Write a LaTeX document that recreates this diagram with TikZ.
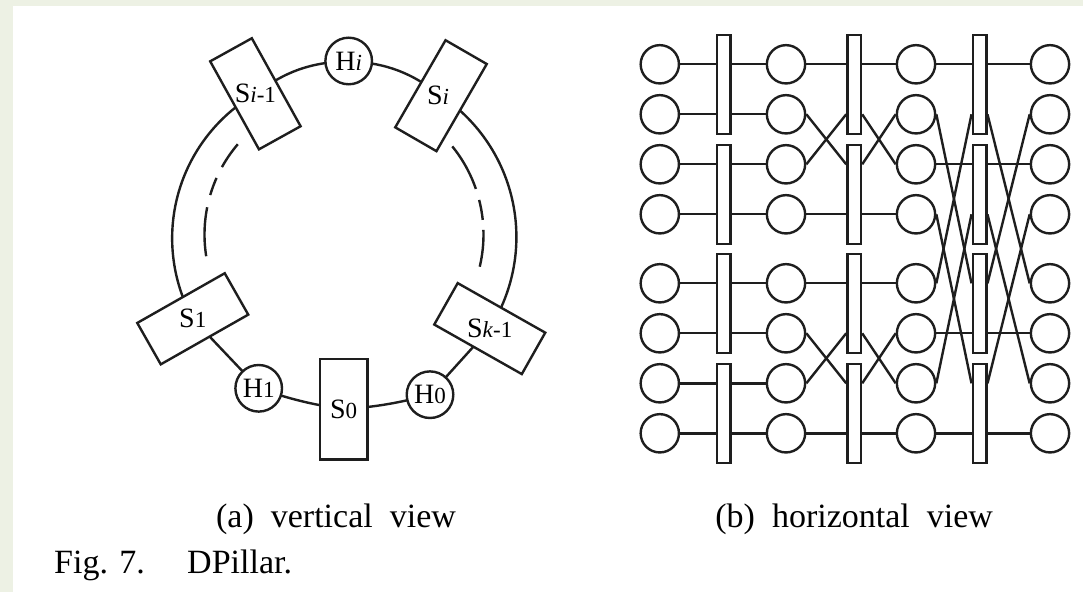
\documentclass[tikz,border=0pt]{standalone}
\usepackage{fontspec}
\setmainfont{Liberation Serif}
\newcommand\smallsub[1]{{\fontsize{23}{25}\selectfont #1}}
\definecolor{bgtint}{HTML}{EDF1E4}
\definecolor{ink}{HTML}{1E1E1E}
\pgfdeclarelayer{back}
\pgfdeclarelayer{wires}
\pgfsetlayers{back,wires,main}
\begin{document}
\begin{tikzpicture}[x=1pt,y=1pt,
  every path/.append style={line width=2.4pt},
  hub/.style={circle,draw=ink,line width=2.4pt,fill=white,minimum size=46.6pt,inner sep=0pt,font=\fontsize{28}{30}\selectfont},
  sw/.style={rectangle,draw=ink,line width=2.4pt,fill=white,minimum width=47.6pt,minimum height=100.6pt,inner sep=0pt},
  lab/.style={inner sep=0pt,font=\fontsize{28}{30}\selectfont},
  srv/.style={circle,draw=ink,line width=2.4pt,fill=white,minimum size=38.3pt,inner sep=0pt},
  bar/.style={rectangle,draw=ink,line width=2.4pt,fill=white,minimum width=13.6pt,minimum height=98.6pt,inner sep=0pt},
  wire/.style={draw=ink,line width=2.4pt},
  captext/.style={inner sep=0pt,anchor=base,font=\fontsize{34}{40}\selectfont}]
\begin{pgfonlayer}{back}
\fill[bgtint] (0,0) rectangle (1083,592);
\fill[white] (13,0) rectangle (1083,586);
\end{pgfonlayer}
\useasboundingbox (0,0) rectangle (1083,592);

% ---------- (a) vertical view ----------
\node[hub] (hi) at (348.7,531) {H\smallsub{\textit{i}}};
\node[hub] (h1) at (258.7,203.7) {H\smallsub{1}};
\node[hub] (h0) at (430,197.3) {H\smallsub{0}};
\node[sw,rotate=29] (sim) at (255.4,498.2) {};
\node[sw,rotate=-30] (si) at (441,496.3) {};
\node[sw,rotate=-60.4] (s1) at (192.75,273.2) {};
\node[sw,rotate=60.5] (skm) at (489.75,263.4) {};
\node[sw] (s0) at (343.7,182.7) {};
\node[lab] (sim-t) at (sim.center) {S\smallsub{\textit{i}-1}};
\node[lab] (si-t) at ([xshift=-3pt]si.center) {S\smallsub{\textit{i}}};
\node[lab] (s1-t) at (s1.center) {S\smallsub{1}};
\node[lab] (skm-t) at (skm.center) {S\smallsub{\textit{k}-1}};
\node[lab] (s0-t) at (s0.center) {S\smallsub{0}};

\begin{pgfonlayer}{wires}
\draw[wire] (hi.center) to[bend left=17] (si.center);
\draw[wire] (si.center) to[bend left=44] (skm.center);
\draw[wire] (skm.center) -- (h0.center);
\draw[wire] (h0.center) to[bend left=5] (s0.center);
\draw[wire] (s0.center) to[bend left=5] (h1.center);
\draw[wire] (h1.center) -- (s1.center);
\draw[wire] (s1.center) to[bend left=44] (sim.center);
\draw[wire] (sim.center) to[bend left=17] (hi.center);
\end{pgfonlayer}

% dashed inner arcs
\draw[wire] ([shift={(139.5:139pt)}]343.5,357.5) arc[start angle=139.5,end angle=151,radius=139pt];
\draw[wire] ([shift={(156:139pt)}]343.5,357.5) arc[start angle=156,end angle=163.5,radius=139pt];
\draw[wire] ([shift={(168.7:139pt)}]343.5,357.5) arc[start angle=168.7,end angle=189,radius=139pt];
\draw[wire] ([shift={(39:140pt)}]343.5,357.5) arc[start angle=39,end angle=19,radius=140pt];
\draw[wire] ([shift={(14.3:140pt)}]343.5,357.5) arc[start angle=14.3,end angle=6,radius=140pt];
\draw[wire] ([shift={(1.9:140pt)}]343.5,357.5) arc[start angle=1.9,end angle=-13.3,radius=140pt];

% ---------- (b) horizontal view ----------
\foreach \c/\x in {1/659.8,2/786,3/916,4/1050}{
  \foreach \r/\y in {1/527.7,2/477.7,3/427.7,4/377.7,5/308.7,6/258.7,7/208.7,8/158.7}{
    \node[srv] (n\c\r) at (\x,\y) {};
  }
}
\foreach \b/\x in {A/723.5,B/854.2,C/979.5}{
  \foreach \k/\y in {1/507.5,2/397.5,3/288.5,4/178.5}{
    \node[bar] (s\b\k) at (\x,\y) {};
  }
}
% stage 1
\foreach \r/\k in {1/1,2/1,3/2,4/2,5/3,6/3,7/4,8/4}{
  \draw[wire] (n1\r.east) -- (sA\k.west |- n1\r);
  \draw[wire] (sA\k.east |- n1\r) -- (n2\r.west);
}
% stage 2
\foreach \r/\k in {1/1,4/2,5/3,8/4}{
  \draw[wire] (n2\r.east) -- (sB\k.west |- n2\r);
  \draw[wire] (sB\k.east |- n2\r) -- (n3\r.west);
}
\draw[wire] (n22.east) -- (sB2.west |- n23);
\draw[wire] (n23.east) -- (sB1.west |- n22);
\draw[wire] (sB1.east |- n22) -- (n33.west);
\draw[wire] (sB2.east |- n23) -- (n32.west);
\draw[wire] (n26.east) -- (sB4.west |- n27);
\draw[wire] (n27.east) -- (sB3.west |- n26);
\draw[wire] (sB3.east |- n26) -- (n37.west);
\draw[wire] (sB4.east |- n27) -- (n36.west);
% stage 3
\foreach \r/\k in {1/1,3/2,6/3,8/4}{
  \draw[wire] (n3\r.east) -- (sC\k.west |- n3\r);
  \draw[wire] (sC\k.east |- n3\r) -- (n4\r.west);
}
\draw[wire] (n35.east) -- (sC1.west |- n32);
\draw[wire] (n37.east) -- (sC2.west |- n34);
\draw[wire] (n32.east) -- (sC3.west |- n35);
\draw[wire] (n34.east) -- (sC4.west |- n37);
\draw[wire] (sC1.east |- n32) -- (n45.west);
\draw[wire] (sC2.east |- n34) -- (n47.west);
\draw[wire] (sC3.east |- n35) -- (n42.west);
\draw[wire] (sC4.east |- n37) -- (n44.west);

% ---------- captions ----------
\node[captext] (capa) at (336,65) {(a)\hspace{0.5em}vertical\hspace{0.5em}view};
\node[captext] (capb) at (854.2,65) {(b)\hspace{0.5em}horizontal\hspace{0.5em}view};
\node[captext,anchor=base west] (fig) at (53,18.4) {Fig. 7.};
\node[captext,anchor=base west] (figt) at (186,18.4) {DPillar.};
\end{tikzpicture}
\end{document}
